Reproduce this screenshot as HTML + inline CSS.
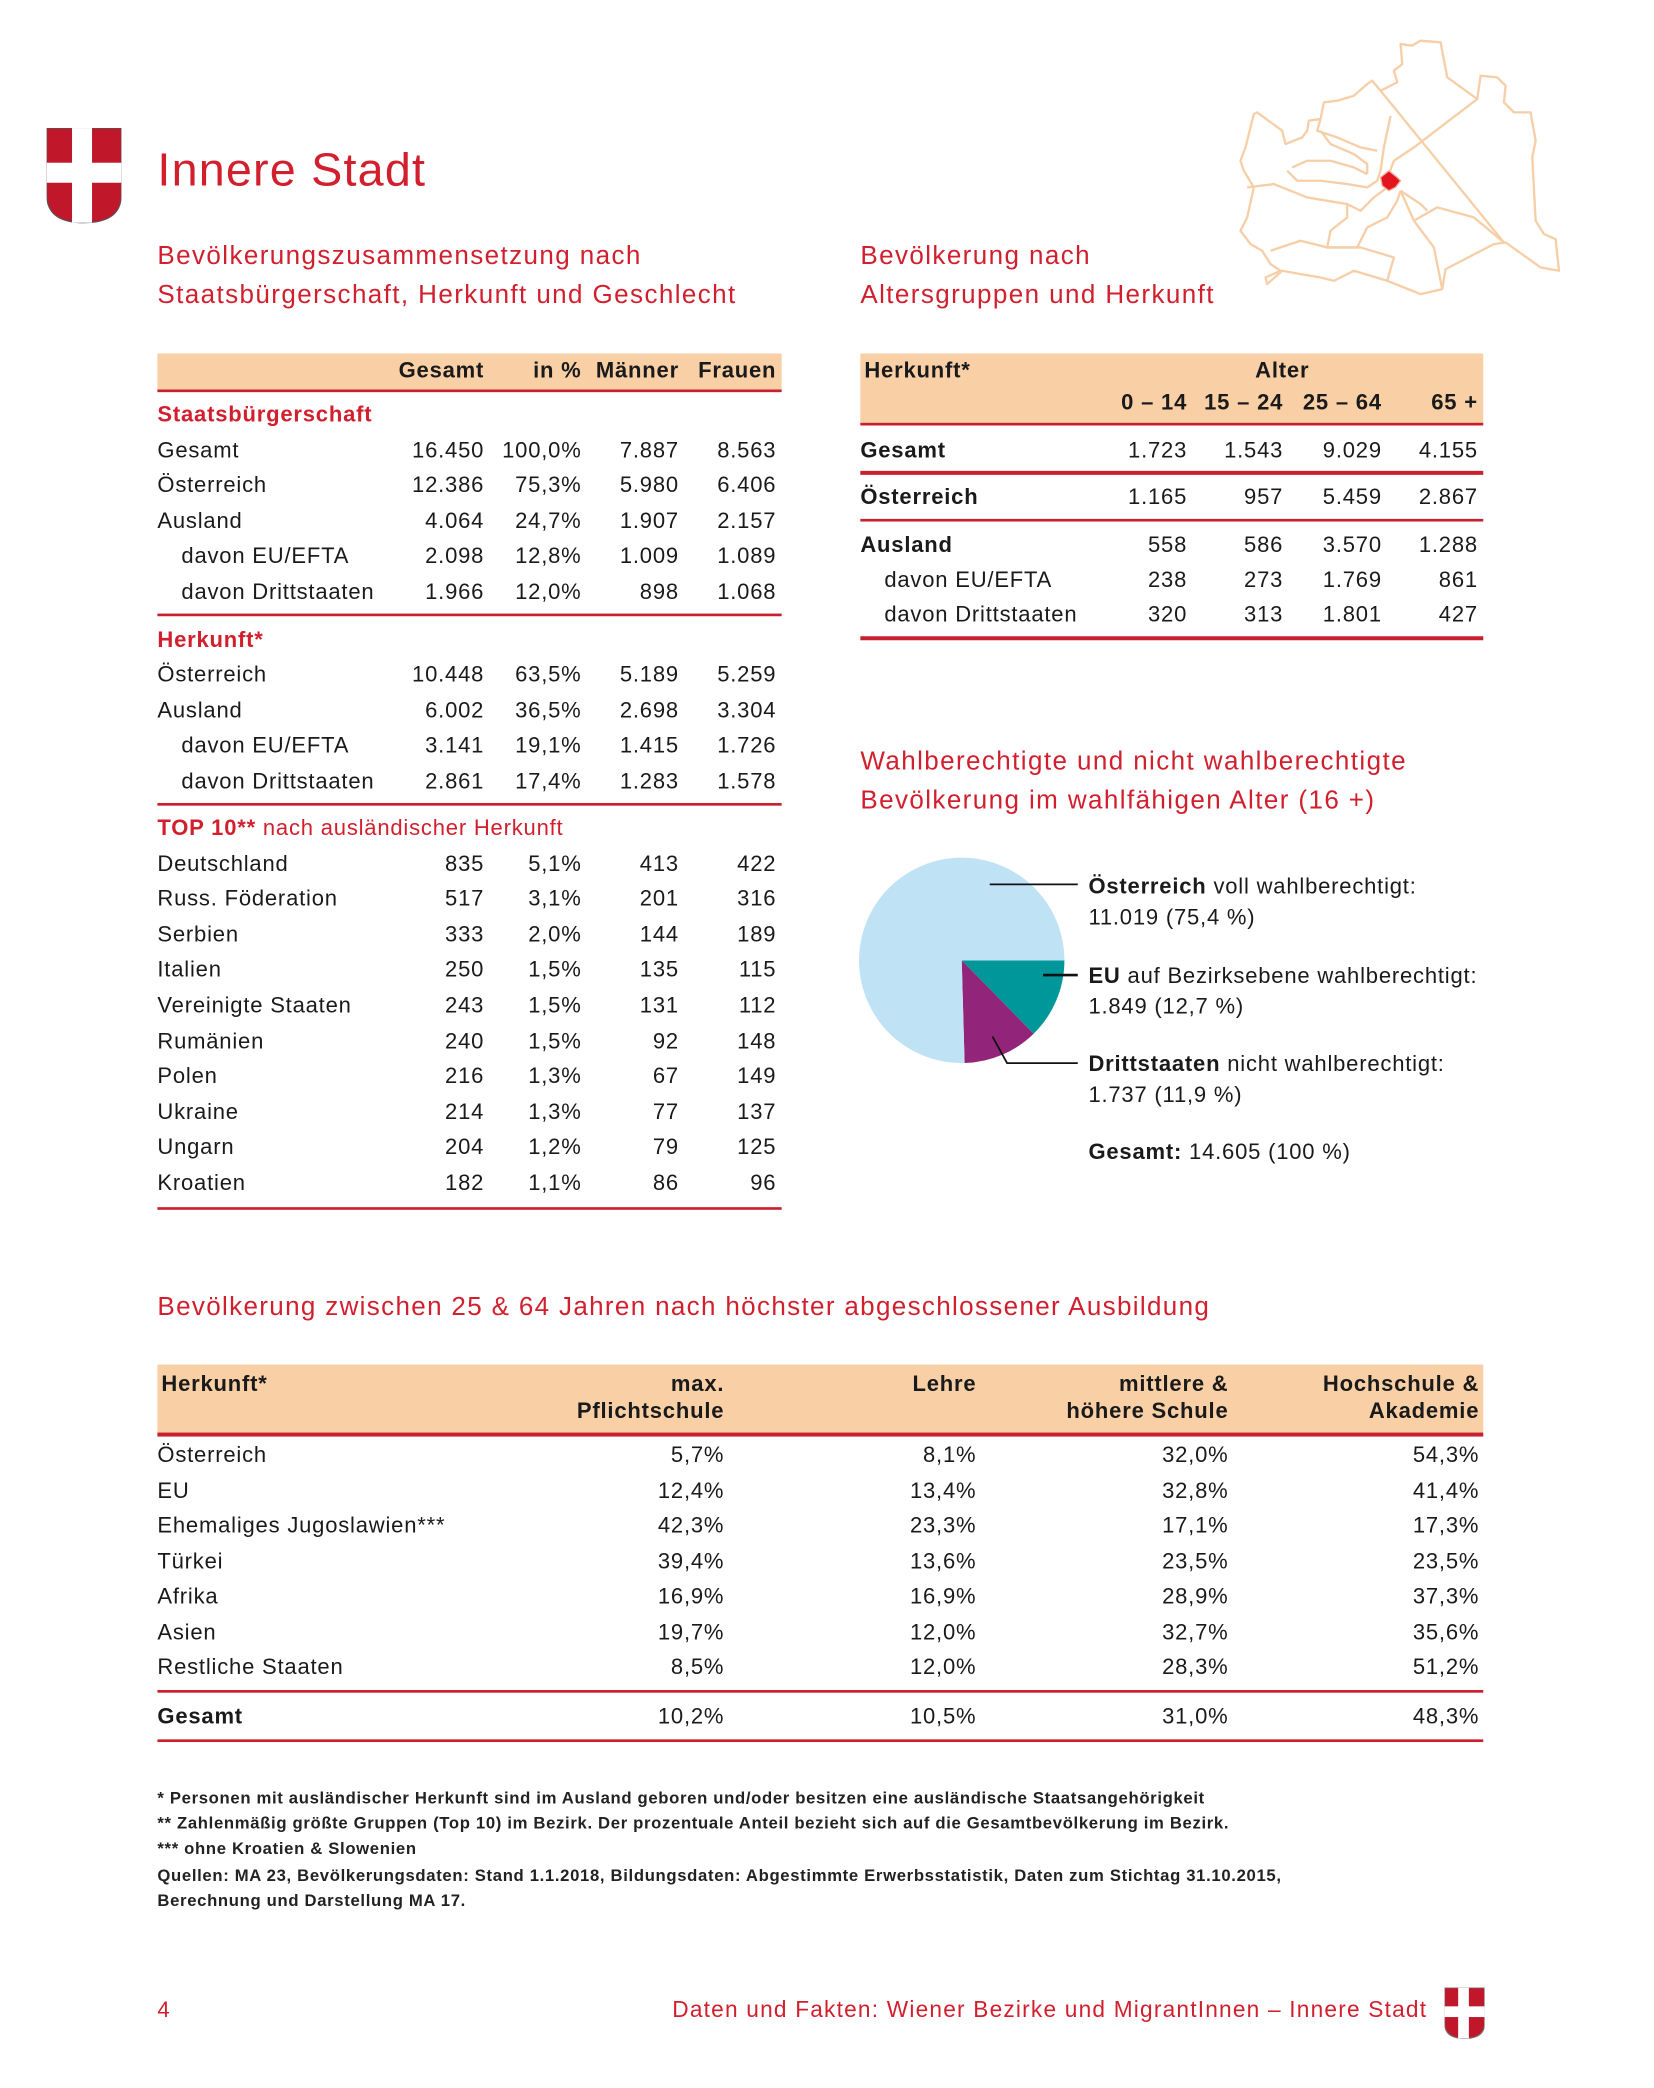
<!DOCTYPE html>
<html><head><meta charset="utf-8">
<style>
html,body{margin:0;padding:0;background:#fff;}
body{width:1654px;height:2087px;overflow:hidden;position:relative;}
#pg{position:absolute;left:0;top:0;width:1240px;height:1565px;transform:scale(1.33387);transform-origin:0 0;font-family:"Liberation Sans",sans-serif;color:#1a1a1a;}
.a{position:absolute;white-space:nowrap;line-height:20px;}
.t{font-size:16.5px;letter-spacing:0.6px;}
.r{text-align:right;}
.b{font-weight:bold;}
.red{color:#d11f2e;}
.h2{font-size:19.5px;color:#d11f2e;letter-spacing:1.05px;line-height:29px;}
.band{position:absolute;background:#f9cfa6;}
.ln{position:absolute;height:2px;background:#c8202f;}
.fn{font-size:12.5px;font-weight:bold;color:#222;letter-spacing:0.5px;}
</style></head><body>
<div id="pg">

<svg class="a" style="left:35px;top:96px" width="56" height="72" viewBox="0 0 56 72">
<path d="M0 0H56V50Q56 71 28 71Q0 71 0 50Z" fill="#c0172b" stroke="#555" stroke-width="0.8"/>
<rect x="19" y="0" width="15" height="71" fill="#fff"/>
<rect x="0" y="26" width="56" height="15" fill="#fff"/>
</svg>
<div class="a red" style="left:118px;top:106px;font-size:35px;line-height:44px;letter-spacing:0.9px">Innere Stadt</div>

<svg class="a" style="left:914.6px;top:22.5px" width="285" height="210" viewBox="0 0 1140 840">
<g fill="none" stroke="#f6cfa8" stroke-width="7" stroke-linejoin="round">
<path d="M540,40 575,45 600,30 660,35 680,140 770,205 780,135 830,140 855,165 850,215 880,245 930,245 945,330 935,380 945,570 970,610 1005,625 1015,720 960,710 855,635 820,640 675,715 665,775 600,790 500,750 400,720 340,750 300,740 240,730 185,720 140,760 135,740 180,720 150,700 125,660 90,640 60,600 80,560 100,470 70,420 60,390 75,350 100,250 110,245 185,300 195,340 245,320 260,300 265,270 300,265 310,215 350,210 400,195 440,160 455,150 480,180 530,155 520,120 545,100Z"/>
<path d="M480,180 L850,635"/>
<path d="M770,205 L580,350 520,390 505,430"/>
<path d="M510,255 L490,350 480,420 470,450 440,470 380,460 300,450 230,450 200,420"/>
<path d="M300,265 L290,300 350,320 420,350 470,360"/>
<path d="M300,300 L330,340 400,370 440,400 440,430"/>
<path d="M215,410 L260,390 330,390 400,410 440,430"/>
<path d="M80,470 L160,460 260,500 380,520 420,540 460,500 500,470"/>
<path d="M380,520 L380,560 330,600 320,650 410,650 440,590 500,560 530,510 540,480"/>
<path d="M540,480 L580,570 640,650 665,775"/>
<path d="M580,570 L650,530 760,560 850,635"/>
<path d="M150,660 L240,630 320,650 420,650 520,680 500,750"/>
<path d="M540,480 L600,520 620,540"/>
</g>
<path d="M480,440 505,420 530,440 540,450 525,470 505,480 485,465Z" fill="#e3151f" stroke="#f4b0a0" stroke-width="4"/>
</svg>

<div class="a h2" style="left:118px;top:178px">Bevölkerungszusammensetzung nach<br>Staatsbürgerschaft, Herkunft und Geschlecht</div>
<div class="a h2" style="left:645px;top:178px">Bevölkerung nach<br>Altersgruppen und Herkunft</div>
<div class="a h2" style="left:645px;top:557px">Wahlberechtigte und nicht wahlberechtigte<br>Bevölkerung im wahlfähigen Alter (16 +)</div>
<div class="a h2" style="left:118px;top:966px;letter-spacing:1px">Bevölkerung zwischen 25 &amp; 64 Jahren nach höchster abgeschlossener Ausbildung</div>

<div id="tables"></div>

<svg class="a" style="left:640px;top:638px" width="170" height="170" id="pie"></svg>
<svg class="a" style="left:640px;top:638px" width="200" height="170">
<path d="M102,25H168" stroke="#111" stroke-width="1.3" fill="none"/>
<path d="M142,93H168" stroke="#111" stroke-width="2" fill="none"/>
<path d="M104,139L115,159H168" stroke="#111" stroke-width="1.3" fill="none"/>
</svg>
<div class="a t" style="left:816px;top:654px;line-height:23px"><b>Österreich</b> voll wahlberechtigt:<br>11.019 (75,4 %)</div>
<div class="a t" style="left:816px;top:721px;line-height:23px"><b>EU</b> auf Bezirksebene wahlberechtigt:<br>1.849 (12,7 %)</div>
<div class="a t" style="left:816px;top:787px;line-height:23px"><b>Drittstaaten</b> nicht wahlberechtigt:<br>1.737 (11,9 %)</div>
<div class="a t" style="left:816px;top:854px"><b>Gesamt:</b> 14.605 (100 %)</div>

<div class="a fn" style="left:118px;top:1339px;line-height:19px">* Personen mit ausländischer Herkunft sind im Ausland geboren und/oder besitzen eine ausländische Staatsangehörigkeit<br>** Zahlenmäßig größte Gruppen (Top 10) im Bezirk. Der prozentuale Anteil bezieht sich auf die Gesamtbevölkerung im Bezirk.<br>*** ohne Kroatien &amp; Slowenien</div>
<div class="a fn" style="left:118px;top:1397px;line-height:19px">Quellen: MA 23, Bevölkerungsdaten: Stand 1.1.2018, Bildungsdaten: Abgestimmte Erwerbsstatistik, Daten zum Stichtag 31.10.2015,<br>Berechnung und Darstellung MA 17.</div>

<div class="a red t" style="left:118px;top:1497px">4</div>
<div class="a red t" style="right:170px;top:1497px;font-size:17px;letter-spacing:0.9px">Daten und Fakten: Wiener Bezirke und MigrantInnen – Innere Stadt</div>
<svg class="a" style="left:1083px;top:1490px" width="30" height="39" viewBox="0 0 56 72">
<path d="M0 0H56V50Q56 71 28 71Q0 71 0 50Z" fill="#c0172b" stroke="#777" stroke-width="1.5"/>
<rect x="19" y="0" width="15" height="71" fill="#fff"/>
<rect x="0" y="26" width="56" height="15" fill="#fff"/>
</svg>
</div>

<script>
// Pie data
const pieLabels = ["Österreich", "EU", "Drittstaaten"];
const pieValues = [11019, 1849, 1737];
const pieColors = ["#bfe3f5", "#00979a", "#92247a"];

const pg = document.getElementById('tables');
function txt(x, y, s, cls, name, right) {
  const d = document.createElement('div');
  d.className = 'a t ' + (cls || '');
  
  
  if (right) { d.style.right = (1240 - x) + 'px'; d.style.textAlign = 'right'; }
  else d.style.left = x + 'px';
  d.style.top = (y - 10) + 'px';
  d.innerHTML = s;
  pg.appendChild(d);
}
function band(x, y, w, h, name) {
  const d = document.createElement('div');
  d.className = 'band';
  
  
  d.style.cssText += `left:${x}px;top:${y}px;width:${w}px;height:${h}px`;
  pg.appendChild(d);
}
function line(x, y, w, h, name) {
  const d = document.createElement('div');
  d.className = 'ln';
  
  
  d.style.cssText += `left:${x}px;top:${y}px;width:${w}px;height:${h || 2}px`;
  pg.appendChild(d);
}

// Table 1
band(118, 265, 468, 28, 't1-header');
line(118, 292, 468, 2, 't1-header-rule');
const t1cols = [363, 436, 509, 582];
['Gesamt', 'in %', 'Männer', 'Frauen'].forEach((h, i) => txt(t1cols[i], 278, h, 'b', 't1-col-header', true));
const t1 = [
  ['h', 'Staatsbürgerschaft', 311],
  ['r', 'Gesamt', 338, ['16.450', '100,0%', '7.887', '8.563']],
  ['r', 'Österreich', 364, ['12.386', '75,3%', '5.980', '6.406']],
  ['r', 'Ausland', 391, ['4.064', '24,7%', '1.907', '2.157']],
  ['s', 'davon EU/EFTA', 417, ['2.098', '12,8%', '1.009', '1.089']],
  ['s', 'davon Drittstaaten', 444, ['1.966', '12,0%', '898', '1.068']],
  ['h', 'Herkunft*', 480],
  ['r', 'Österreich', 506, ['10.448', '63,5%', '5.189', '5.259']],
  ['r', 'Ausland', 533, ['6.002', '36,5%', '2.698', '3.304']],
  ['s', 'davon EU/EFTA', 559, ['3.141', '19,1%', '1.415', '1.726']],
  ['s', 'davon Drittstaaten', 586, ['2.861', '17,4%', '1.283', '1.578']],
  ['h2', '<b>TOP 10**</b> nach ausländischer Herkunft', 621],
  ['r', 'Deutschland', 648, ['835', '5,1%', '413', '422']],
  ['r', 'Russ. Föderation', 674, ['517', '3,1%', '201', '316']],
  ['r', 'Serbien', 701, ['333', '2,0%', '144', '189']],
  ['r', 'Italien', 727, ['250', '1,5%', '135', '115']],
  ['r', 'Vereinigte Staaten', 754, ['243', '1,5%', '131', '112']],
  ['r', 'Rumänien', 781, ['240', '1,5%', '92', '148']],
  ['r', 'Polen', 807, ['216', '1,3%', '67', '149']],
  ['r', 'Ukraine', 834, ['214', '1,3%', '77', '137']],
  ['r', 'Ungarn', 860, ['204', '1,2%', '79', '125']],
  ['r', 'Kroatien', 887, ['182', '1,1%', '86', '96']],
];
t1.forEach(r => {
  if (r[0] === 'h') txt(118, r[2], r[1], 'b red', 't1-section-header');
  else if (r[0] === 'h2') txt(118, r[2], r[1], 'red', 't1-section-header');
  else {
    txt(r[0] === 's' ? 136 : 118, r[2], r[1], '', 't1-row-label');
    r[3].forEach((v, i) => txt(t1cols[i], r[2], v, '', 't1-cell', true));
  }
});
line(118, 460, 468, 2, 't1-rule');
line(118, 602, 468, 2, 't1-rule');
line(118, 905, 468, 2, 't1-rule');

// Table 2
band(645, 265, 467, 53, 't2-header');
line(645, 317, 467, 2, 't2-header-rule');
txt(648, 278, 'Herkunft*', 'b', 't2-col-header');
txt(941, 278, 'Alter', 'b', 't2-col-header');
const t2cols = [890, 962, 1036, 1108];
['0 – 14', '15 – 24', '25 – 64', '65 +'].forEach((h, i) => txt(t2cols[i], 302, h, 'b', 't2-col-header', true));
const t2 = [
  ['b', 'Gesamt', 338, ['1.723', '1.543', '9.029', '4.155']],
  ['b', 'Österreich', 373, ['1.165', '957', '5.459', '2.867']],
  ['b', 'Ausland', 409, ['558', '586', '3.570', '1.288']],
  ['s', 'davon EU/EFTA', 435, ['238', '273', '1.769', '861']],
  ['s', 'davon Drittstaaten', 461, ['320', '313', '1.801', '427']],
];
t2.forEach(r => {
  txt(r[0] === 's' ? 663 : 645, r[2], r[1], r[0] === 'b' ? 'b' : '', 't2-row-label');
  r[3].forEach((v, i) => txt(t2cols[i], r[2], v, '', 't2-cell', true));
});
line(645, 353, 467, 3, 't2-rule');
line(645, 389, 467, 2, 't2-rule');
line(645, 477, 467, 3, 't2-rule');

// Table 3
band(118, 1023, 994, 52, 't3-header');
line(118, 1074, 994, 3, 't3-header-rule');
const t3cols = [543, 732, 921, 1109];
txt(121, 1038, 'Herkunft*', 'b', 't3-col-header');
[['max.', 'Pflichtschule'], ['Lehre', ''], ['mittlere &amp;', 'höhere Schule'], ['Hochschule &amp;', 'Akademie']].forEach((h, i) => {
  txt(t3cols[i], 1038, h[0], 'b', 't3-col-header', true);
  if (h[1]) txt(t3cols[i], 1058, h[1], 'b', 't3-col-header', true);
});
const t3 = [
  ['Österreich', ['5,7%', '8,1%', '32,0%', '54,3%']],
  ['EU', ['12,4%', '13,4%', '32,8%', '41,4%']],
  ['Ehemaliges Jugoslawien***', ['42,3%', '23,3%', '17,1%', '17,3%']],
  ['Türkei', ['39,4%', '13,6%', '23,5%', '23,5%']],
  ['Afrika', ['16,9%', '16,9%', '28,9%', '37,3%']],
  ['Asien', ['19,7%', '12,0%', '32,7%', '35,6%']],
  ['Restliche Staaten', ['8,5%', '12,0%', '28,3%', '51,2%']],
];
t3.forEach((r, k) => {
  const y = 1091 + k * 26.5;
  txt(118, y, r[0], '', 't3-row-label');
  r[1].forEach((v, i) => txt(t3cols[i], y, v, '', 't3-cell', true));
});
line(118, 1267, 994, 2, 't3-rule');
txt(118, 1287, 'Gesamt', 'b', 't3-total-label');
['10,2%', '10,5%', '31,0%', '48,3%'].forEach((v, i) => txt(t3cols[i], 1287, v, '', 't3-total-cell', true));
line(118, 1304, 994, 2, 't3-rule');

// Pie chart
const svg = document.getElementById('pie');
const cx = 81, cy = 82, rad = 77;
const total = pieValues.reduce((a, b) => a + b, 0);
const order = [1, 2, 0];
let ang = 0;
order.forEach(idx => {
  const sweep = pieValues[idx] / total * Math.PI * 2;
  const a0 = ang, a1 = ang + sweep;
  const x0 = cx + rad * Math.cos(a0), y0 = cy + rad * Math.sin(a0);
  const x1 = cx + rad * Math.cos(a1), y1 = cy + rad * Math.sin(a1);
  const p = document.createElementNS('http://www.w3.org/2000/svg', 'path');
  p.setAttribute('d', `M${cx},${cy}L${x0},${y0}A${rad},${rad} 0 ${sweep > Math.PI ? 1 : 0} 1 ${x1},${y1}Z`);
  p.setAttribute('fill', pieColors[idx]);
  
  
  svg.appendChild(p);
  ang = a1;
});
</script>
</body></html>
